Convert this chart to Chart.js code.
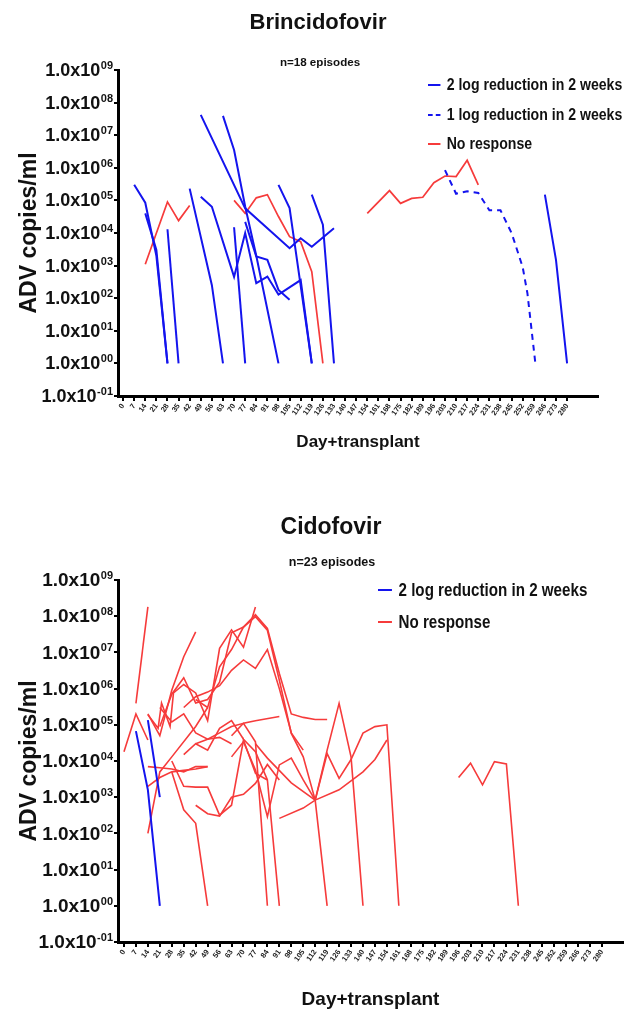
<!DOCTYPE html>
<html>
<head>
<meta charset="utf-8">
<script src="https://cdn.jsdelivr.net/npm/chart.js@4.4.1/dist/chart.umd.min.js"></script>
<style>
  html, body { margin: 0; padding: 0; background: #fff; }
  #wrap { position: relative; width: 624px; height: 1015px; overflow: hidden;
    font-family: 'Liberation Sans', Arial, sans-serif; color: #111; }
  canvas { position: absolute; left: 0; }
  .ttl { position: absolute; font-weight: bold; white-space: nowrap; transform: translateX(-50%); line-height: 1; }
  .legend { position: absolute; font-weight: bold; white-space: nowrap; transform-origin: 0 0; }
  .legend .row { position: absolute; left: 0; height: 20px; line-height: 20px; display: flex; align-items: center; }
  .legend .sw { width: 14.5px; height: 0; border-top: 2.5px solid; margin-right: 8px; }
  .legend .sw.dash { border-top-style: dashed; }
</style>
</head>
<body>
<div id="wrap">
  <canvas id="bcv" width="624" height="470" style="top:0"></canvas>
  <canvas id="cdv" width="624" height="545" style="top:470px"></canvas>

  <div class="ttl" style="left:318px; top:11px; font-size:22px;">Brincidofovir</div>
  <div class="ttl" style="left:320px; top:56px; font-size:11.6px;">n=18 episodes</div>
  <div class="ttl" style="left:331px; top:515px; font-size:23px;">Cidofovir</div>
  <div class="ttl" style="left:332px; top:556px; font-size:12.5px;">n=23 episodes</div>

  <div class="legend" style="left:428px; top:0; font-size:17px; transform:scaleX(0.83);">
    <div class="row" style="top:75px"><span class="sw" style="border-color:#1414ee"></span>2 log reduction in 2 weeks</div>
    <div class="row" style="top:105px"><span class="sw dash" style="border-color:#1414ee"></span>1 log reduction in 2 weeks</div>
    <div class="row" style="top:134px"><span class="sw" style="border-color:#f63b3b"></span>No response</div>
  </div>
  <div class="legend" style="left:378px; top:0; font-size:18.5px; transform:scaleX(0.82);">
    <div class="row" style="top:580px"><span class="sw" style="border-color:#1414ee;width:17px"></span>2 log reduction in 2 weeks</div>
    <div class="row" style="top:612px"><span class="sw" style="border-color:#f63b3b;width:17px"></span>No response</div>
  </div>
</div>
<script>
// ---- axis ticks ----
const xTickVals = [0, 7, 14, 21, 28, 35, 42, 49, 56, 63, 70, 77, 84, 91, 98, 105, 112, 119, 126, 133, 140,
  147, 154, 161, 168, 175, 182, 189, 196, 203, 210, 217, 224, 231, 238, 245, 252, 259, 266, 273, 280];
const yTickVals = [0.1, 1, 10, 100, 1000, 1e4, 1e5, 1e6, 1e7, 1e8, 1e9];
const yTickBase = '1.0x10';
const yTickExps = ['-01', '00', '01', '02', '03', '04', '05', '06', '07', '08', '09'];

// ---- Brincidofovir episodes: [day, ADV copies/ml] ----
const bcvTwoLog = [
  [[7, 3e5], [14, 8.5e4], [21, 2e3], [28, 1]],
  [[14, 4e4], [21, 3e3], [28, 1]],
  [[28, 1.3e4], [35, 1]],
  [[42, 2.3e5], [56, 2.5e2], [63, 1]],
  [[49, 1.3e5], [56, 6.4e4], [70, 4.5e2], [77, 1e4], [84, 2.9e2], [91, 4.6e2], [98, 1.3e2], [112, 3.6e2], [119, 1]],
  [[70, 1.5e4], [77, 1]],
  [[49, 4.2e7], [77, 5.7e4], [105, 3.4e3], [112, 6.9e3], [119, 3.8e3], [133, 1.4e4]],
  [[63, 3.9e7], [70, 3.5e6], [77, 6.5e4], [84, 2e3], [98, 1]],
  [[77, 2.2e4], [84, 1.9e3], [91, 1.5e3], [98, 1.8e2], [105, 90]],
  [[98, 3e5], [105, 5.8e4], [119, 1]],
  [[119, 1.5e5], [126, 1.8e4], [133, 1]],
  [[266, 1.5e5], [273, 1.5e3], [280, 1]]
];
const bcvOneLog = [
  [[203, 8.5e5], [210, 1.6e5], [217, 1.9e5], [224, 1.7e5], [231, 5e4], [238, 5e4], [245, 1e4], [252, 9e2], [255, 1.4e2], [260, 1]]
];
const bcvNone = [
  [[14, 1.1e3], [28, 9e4], [35, 2.4e4], [42, 7e4]],
  [[70, 1e5], [77, 4e4], [84, 1.2e5], [91, 1.5e5], [98, 3.2e4], [105, 7.7e3], [112, 5.4e3], [119, 6.5e2], [126, 1]],
  [[154, 4e4], [168, 2e5], [175, 8.1e4], [182, 1.15e5], [189, 1.25e5], [196, 3.5e5], [203, 5.6e5], [210, 5.4e5], [217, 1.7e6], [224, 3e5]]
];

// ---- Cidofovir episodes ----
const cdvTwoLog = [
  [[7, 6.7e4], [14, 1.6e3], [21, 1]],
  [[14, 1.35e5], [21, 1e3]]
];
const cdvNone = [
  [[0, 1.8e4], [7, 2e5], [14, 3.8e4]],
  [[7, 3.9e5], [14, 1.8e8]],
  [[14, 2e5], [21, 5e4], [28, 9e5], [35, 7.6e6], [42, 3.7e7]],
  [[14, 1.9e5], [20, 8e4], [22, 4e5], [27, 9e4], [29, 7.6e5], [35, 1.3e6], [42, 7.6e5], [49, 1.3e5], [56, 1.3e7], [63, 4.2e7], [70, 1.4e7], [77, 1.8e8]],
  [[21, 9e4], [28, 7e5], [35, 2e6], [42, 4e5], [49, 5e5], [56, 1.5e6], [63, 3.5e7], [70, 5e7], [77, 9.7e7], [84, 4.1e7], [91, 1.7e6], [98, 5.8e4], [105, 1.3e4], [112, 8.3e2], [119, 1]],
  [[35, 3e5], [42, 6e5], [49, 8e5], [56, 1.2e6], [63, 3.2e6], [70, 6.2e6], [77, 3.6e6], [84, 1.2e7], [91, 1e6], [98, 6e4], [105, 2e4]],
  [[42, 5e5], [49, 3e5], [56, 4e6], [63, 1.2e7], [70, 5e7], [77, 1.1e8], [84, 4.6e7], [91, 2.6e6], [98, 2e5], [105, 1.6e5], [112, 1.4e5], [119, 1.4e5]],
  [[63, 5e4], [70, 1.1e5], [77, 1.3e5], [91, 1.7e5]],
  [[28, 5e3], [35, 4.5e2], [42, 1.9e2], [49, 1]],
  [[14, 7e3], [21, 6.5e3], [28, 6e3], [35, 5e3], [42, 7e3], [49, 7e3]],
  [[14, 2e3], [21, 3.5e3], [28, 5e3], [35, 5.5e3], [42, 6e3], [49, 7e3]],
  [[14, 1e2], [21, 5e3], [28, 1.3e4], [42, 9e4], [49, 3e5]],
  [[28, 1e4], [35, 2e3], [42, 1.9e3], [49, 1.9e3], [56, 3.2e2], [63, 6e2], [70, 3.8e4], [77, 4.6e3], [84, 3e3], [91, 1]],
  [[42, 3e4], [49, 4e4], [56, 6e4], [63, 9e4], [70, 1.1e5], [77, 3.4e4], [84, 1]],
  [[91, 2.6e2], [105, 5e2], [112, 8.3e2], [126, 1.6e3], [140, 5e3], [147, 1.1e4], [154, 3.8e4]],
  [[63, 1.3e4], [70, 3.4e4], [77, 5.6e3], [84, 2.9e2], [91, 7.8e3], [98, 1.2e4], [105, 3e3], [112, 8.3e2], [119, 1.6e4], [126, 3.3e3], [133, 1.1e4], [140, 5.9e4], [147, 8.9e4], [154, 1e5], [161, 1]],
  [[77, 3e4], [84, 1.2e4], [98, 2.5e3], [112, 8.3e2], [119, 2e4], [126, 3.9e5], [133, 1.3e4], [140, 1]],
  [[196, 3.5e3], [203, 8.7e3], [210, 2.2e3], [217, 9.6e3], [224, 8.3e3], [231, 1]],
  [[21, 3e5], [28, 1.2e5], [35, 2e5], [42, 6e4], [49, 4e4], [56, 4.5e4], [63, 3e4]],
  [[35, 1.5e4], [42, 3e4], [49, 2e4], [56, 8e4], [63, 1.3e5], [70, 4e4], [77, 1.8e4], [84, 3e3]],
  [[42, 6e2], [49, 3.5e2], [56, 3e2], [63, 1e3], [70, 1.2e3], [77, 2.4e3], [84, 8e3], [91, 3e3]]
];

const BLUE = '#1414ee';
const RED = '#f63b3b';
const FONT = "'Liberation Sans', Arial, sans-serif";

function toSets(episodes, color, width, dash) {
  return episodes.map((ep) => ({
    data: ep.map(([x, y]) => ({ x, y })),
    borderColor: color,
    borderWidth: width,
    borderDash: dash || [],
    pointRadius: 0,
    fill: false,
    tension: 0,
  }));
}

// y tick labels "1.0x10" with a raised exponent, right-aligned against the axis
const yLabelPlugin = {
  id: 'yLabels',
  afterDraw(chart) {
    const y = chart.scales.y;
    const ctx = chart.ctx;
    const size = chart.options.plugins.yLabels.size;
    const right = y.right - 5;
    ctx.save();
    ctx.fillStyle = '#111';
    ctx.textAlign = 'right';
    yTickVals.forEach((v, i) => {
      const py = y.getPixelForValue(v);
      ctx.font = `bold ${Math.round(size * 0.6)}px ${FONT}`;
      ctx.textBaseline = 'alphabetic';
      const ew = ctx.measureText(yTickExps[i]).width;
      ctx.fillText(yTickExps[i], right, py - 1);
      ctx.font = `bold ${size}px ${FONT}`;
      ctx.textBaseline = 'middle';
      ctx.fillText(yTickBase, right - ew - 0.5, py + 1);
    });
    ctx.restore();
  },
};

function makeChart(id, datasets, o) {
  return new Chart(document.getElementById(id), {
    type: 'line',
    data: { datasets },
    plugins: [yLabelPlugin],
    options: {
      responsive: false,
      animation: false,
      devicePixelRatio: 1,
      layout: { padding: { left: 0, right: o.padRight, top: o.padTop, bottom: 0 } },
      plugins: {
        legend: { display: false },
        tooltip: { enabled: false },
        yLabels: { size: o.yLabelSize },
      },
      scales: {
        x: {
          type: 'linear', min: o.xMin, max: o.xMax,
          afterBuildTicks: (s) => { s.ticks = xTickVals.map((v) => ({ value: v })); },
          afterFit: (s) => { s.height = o.xHeight; },
          border: { display: true, color: '#000', width: 3 },
          grid: { display: true, drawOnChartArea: false, drawTicks: true, tickLength: 5, color: '#000', lineWidth: 2 },
          ticks: {
            autoSkip: false, minRotation: 55, maxRotation: 55, padding: 1, color: '#222',
            font: { family: FONT, size: o.xTickSize, weight: 'bold' },
            callback: (v) => String(v),
          },
          title: {
            display: true, text: 'Day+transplant', color: '#111',
            font: { family: FONT, size: o.xTitleSize, weight: 'bold' },
            padding: { top: 0, bottom: o.xTitlePad },
          },
        },
        y: {
          type: 'logarithmic', min: 0.1, max: 1e9,
          afterBuildTicks: (s) => { s.ticks = yTickVals.map((v) => ({ value: v })); },
          afterFit: (s) => { s.width = 118; },
          border: { display: true, color: '#000', width: 3 },
          grid: { display: true, drawOnChartArea: false, drawTicks: true, tickLength: 4, color: '#000', lineWidth: 2 },
          ticks: { display: false },
          title: {
            display: true, text: 'ADV copies/ml', color: '#111',
            font: { family: FONT, size: 23, weight: 'bold' },
            padding: { top: 16, bottom: 0 },
          },
        },
      },
    },
  });
}

makeChart('bcv',
  [...toSets(bcvTwoLog, BLUE, 2), ...toSets(bcvOneLog, BLUE, 2, [6, 5]), ...toSets(bcvNone, RED, 1.7)],
  {
    padTop: 70, padRight: 26, xMin: -3.2, xMax: 299.5, xHeight: 74,
    xTickSize: 7.5, xTitleSize: 17, xTitlePad: 17.8, yLabelSize: 18,
  });

makeChart('cdv',
  [...toSets(cdvTwoLog, BLUE, 2), ...toSets(cdvNone, RED, 1.6)],
  {
    padTop: 110, padRight: 1, xMin: -3.5, xMax: 292.3, xHeight: 73,
    xTickSize: 7.5, xTitleSize: 19, xTitlePad: 3.6, yLabelSize: 19,
  });
</script>
</body>
</html>
